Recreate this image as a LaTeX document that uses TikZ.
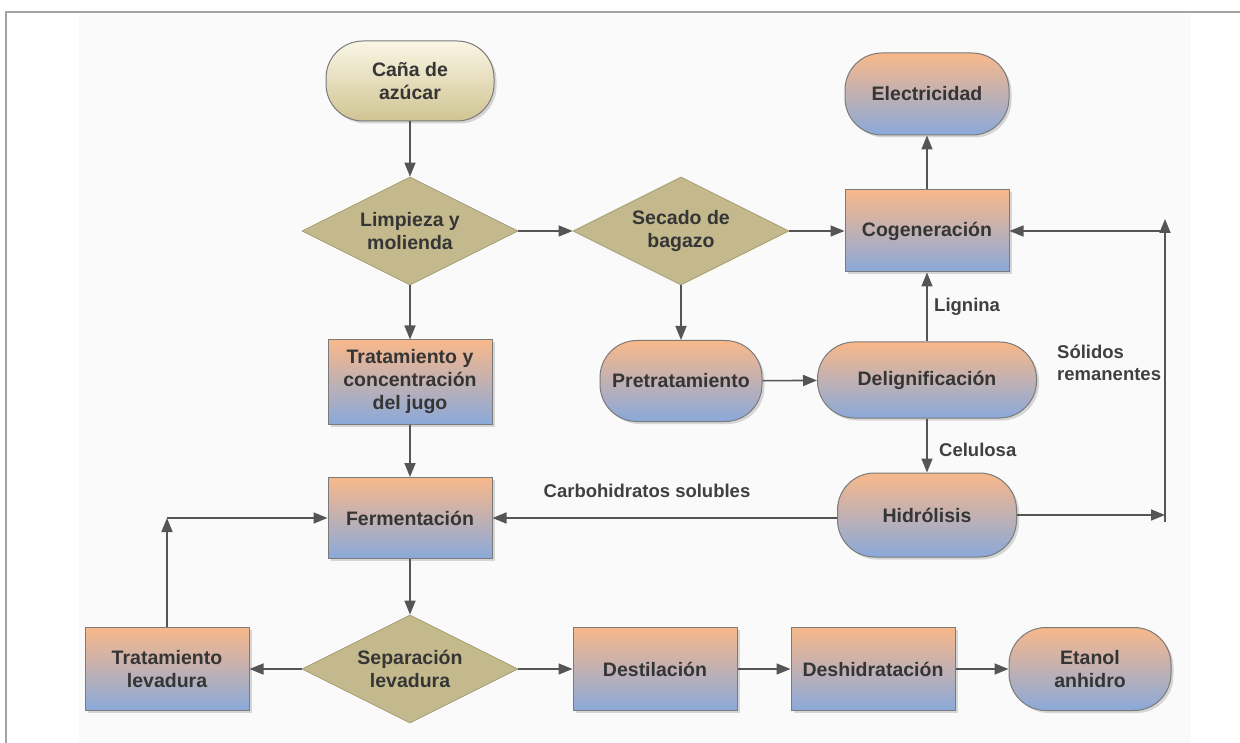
\documentclass[tikz,border=0pt]{standalone}
\usepackage{fontspec}
\setmainfont{Liberation Sans}
\usetikzlibrary{shapes.geometric,arrows.meta,shadows}
\definecolor{peach}{HTML}{F8B88A}
\definecolor{bluish}{HTML}{8AA9DA}
\definecolor{khaki}{HTML}{C4B98D}
\definecolor{khakiedge}{HTML}{A69C72}
\definecolor{creamtop}{HTML}{FAF6E4}
\definecolor{creambot}{HTML}{D0C493}
\definecolor{edgegray}{HTML}{7A7A7A}
\definecolor{txt}{HTML}{353535}
\definecolor{labtxt}{HTML}{404040}
\definecolor{linegray}{HTML}{555555}
\definecolor{framegray}{HTML}{A3A3A3}
\definecolor{bgpanel}{HTML}{FAFAFA}
\begin{document}
\begin{tikzpicture}[x=1pt,y=-1pt,
  every node/.style={font=\fontsize{19.5}{23}\selectfont\bfseries, text=txt, align=center},
  base/.style={draw=edgegray, line width=1pt, inner sep=2pt,
    drop shadow={shadow xshift=2.5pt, shadow yshift=-2.5pt, opacity=0.3}},
  proc/.style={base, rectangle, minimum width=164pt, minimum height=83pt, top color=peach, bottom color=bluish},
  term/.style={proc, rounded corners=37pt},
  start/.style={base, rectangle, rounded corners=37pt, minimum width=168pt, minimum height=80pt, top color=creamtop, bottom color=creambot},
  decision/.style={diamond, aspect=2, inner sep=0pt, minimum width=216pt, minimum height=108pt, fill=khaki, draw=khakiedge, line width=0.8pt},
  arr/.style={draw=linegray, line width=1.6pt, -{Triangle[length=14pt,width=11pt]}},
  lab/.style={text=labtxt, inner sep=0pt, font=\fontsize{18.5}{22}\selectfont\bfseries}
]
\useasboundingbox (0,0) rectangle (1240,743);
\fill[white] (0,0) rectangle (1240,743);
\fill[bgpanel] (79,14) rectangle (1191,743);
\draw[framegray, line width=2pt] (6,743) -- (6,12) -- (1240,12);

% nodes
\node[start] (cana) at (410,81) {Caña de\\azúcar};
\node[decision] (limp) at (410,231) {Limpieza y\\molienda};
\node[decision] (sec) at (681,231) {Secado de\\bagazo};
\node[proc, minimum height=82pt] (cog) at (927,231) {Cogeneración};
\node[term, minimum height=82pt] (elec) at (927,94) {Electricidad};
\node[proc, minimum height=84pt] (jugo) at (410,382) {Tratamiento y\\concentración\\del jugo};
\node[term, minimum width=162pt, minimum height=81pt] (pret) at (681,381) {Pretratamiento};
\node[term, minimum width=219pt, minimum height=76pt] (delig) at (927,380) {Delignificación};
\node[term, minimum width=179pt, minimum height=84pt] (hidro) at (927,515) {Hidrólisis};
\node[proc, minimum height=81pt] (ferm) at (410,518) {Fermentación};
\node[proc] (trlev) at (167,669) {Tratamiento\\levadura};
\node[decision] (sep) at (410,669) {Separación\\levadura};
\node[proc] (dest) at (655,669) {Destilación};
\node[proc] (desh) at (873,669) {Deshidratación};
\node[term, minimum width=162pt] (etan) at (1090,669) {Etanol\\anhidro};

% labels
\node[lab, anchor=west] (llig) at (934,307) {Lignina};
\node[lab, anchor=west] (lcel) at (939,450) {Celulosa};
\node[lab] (lcarb) at (647,491) {Carbohidratos solubles};
\node[lab, anchor=west, align=left] (lsol) at (1057,363) {Sólidos\\remanentes};

% helper coordinates
\coordinate (sin) at (1165,515);
\coordinate (sb) at (1165,522);
\coordinate (st) at (1165,219);
\coordinate (sm) at (1165,231);
\coordinate (corner) at (trlev.north |- ferm.west);

% connectors
\draw[arr] (cana) -- (limp);
\draw[arr] (limp) -- (sec);
\draw[arr] (sec) -- (cog);
\draw[arr] (cog) -- (elec);
\draw[arr] (limp) -- (jugo);
\draw[arr] (sec) -- (pret);
\draw[arr] (pret) -- (delig);
\draw[arr] (delig) -- (cog);
\draw[arr] (delig) -- (hidro);
\draw[arr] (jugo) -- (ferm);
\draw[arr] (hidro.west |- ferm.east) -- (ferm.east);
\draw[arr] (hidro.east) -- (sin);
\draw[arr] (sb) -- (st);
\draw[arr] (sm) -- (cog.east);
\draw[arr] (ferm) -- (sep);
\draw[arr] (sep) -- (trlev);
\draw[arr] (sep) -- (dest);
\draw[arr] (dest) -- (desh);
\draw[arr] (desh) -- (etan);
\draw[arr] (trlev.north) -- (corner);
\draw[arr] (corner) -- (ferm.west);
\end{tikzpicture}
\end{document}
